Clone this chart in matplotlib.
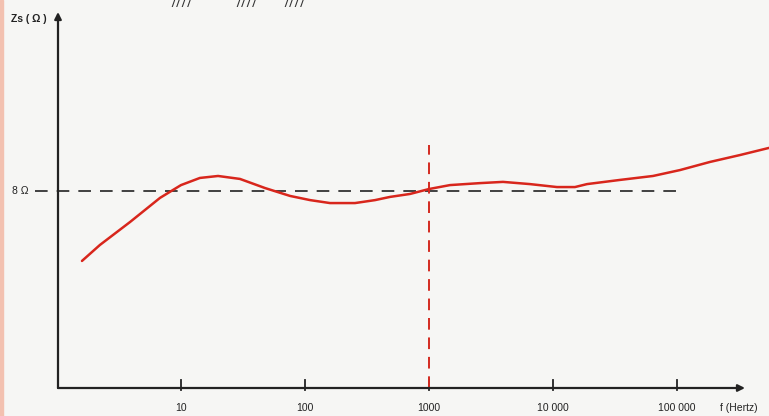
import numpy as np
import matplotlib.pyplot as plt
from matplotlib.patches import Rectangle

# impedance curve
freq_hz = [1.59, 2.22, 3.88, 6.77, 10, 14.2, 19.9, 29.9, 47.6, 75.7, 110, 159, 253,
           367, 485, 703, 1000, 1476, 2578, 3950, 6530, 10770, 15030, 18800,
           34700, 64000, 105700, 184500, 322000, 552000]
zs_ohm = [5.16, 5.81, 6.74, 7.72, 8.24, 8.53, 8.61, 8.49, 8.12, 7.80, 7.63, 7.51, 7.51,
          7.63, 7.76, 7.88, 8.08, 8.24, 8.32, 8.37, 8.28, 8.16, 8.16, 8.28,
          8.45, 8.61, 8.85, 9.18, 9.46, 9.75]

tick_freqs = [10, 100, 1000, 10000, 100000]
tick_labels = ["10", "100", "1000", "10 000", "100 000"]
nominal_ohm = 8
cross_freq = 1000

plt.rcParams['font.family'] = ['Liberation Sans', 'DejaVu Sans']

fig = plt.figure(figsize=(7.69, 4.16), dpi=100)
fig.patch.set_facecolor('#f6f6f4')
ax = fig.add_axes([0, 0, 1, 1])
ax.set_facecolor('#f6f6f4')
ax.set_xscale('log')
ax.set_xlim(10 ** (1 - 181 / 124), 10 ** (1 + 588 / 124))
ax.set_ylim(-28 / 24.625, 388 / 24.625)
ax.axis('off')

x0 = 10 ** (1 - 123 / 124)   # where the y axis sits
x_end = 10 ** (1 + 564 / 124)
y_top = 376 / 24.625

# axes with arrows
ax.annotate('', xy=(x_end, 0), xytext=(x0, 0),
            arrowprops=dict(arrowstyle='-|>', color='#222222', lw=1.6,
                            mutation_scale=10, shrinkA=0, shrinkB=0))
ax.annotate('', xy=(x0, y_top), xytext=(x0, 0),
            arrowprops=dict(arrowstyle='-|>', color='#222222', lw=1.6,
                            mutation_scale=10, shrinkA=0, shrinkB=0))

# decade ticks
for f, lab in zip(tick_freqs, tick_labels):
    ax.plot([f, f], [-0.1, 0.33], color='#222222', lw=1.3)
    ax.text(f, -0.82, lab, ha='center', va='center', fontsize=7.5, color='#222222')
ax.text(10 ** (1 + 539 / 124), -0.82, 'f (Hertz)', ha='left', va='center',
        fontsize=7.5, color='#222222')

# nominal impedance line
ax.plot([10 ** (1 - 146 / 124), 10 ** (1 + 502 / 124)], [nominal_ohm, nominal_ohm],
        color='#333333', lw=1.3, dashes=(7, 5))
ax.text(10 ** (1 - 169 / 124), nominal_ohm, '8 Ω', ha='left', va='center',
        fontsize=7.5, color='#222222')

# 1 kHz marker
ax.plot([cross_freq, cross_freq], [0, 243 / 24.625], color='#d42a20', lw=1.4,
        dashes=(6, 4))

# impedance curve
ax.plot(freq_hz, zs_ohm, color='#d8261c', lw=1.8, solid_capstyle='round')

ax.text(10 ** (1 - 170 / 124), 369 / 24.625, 'Zs ( Ω )', ha='left', va='center',
        fontsize=7.5, fontweight='bold', color='#222222')

# cut-off hatching at the top edge
for px in [181, 246, 294]:
    fig.text(px / 769, 1 - 4 / 416, '/ / / /', ha='center', va='center', fontsize=7,
             fontweight='bold', style='italic', color='#333333')

# reddish scan edge on the left
fig.patches.append(Rectangle((0, 0), 3 / 769, 1, transform=fig.transFigure,
                             color='#f3c1b0', zorder=0))

fig.savefig('out.png', dpi=100, facecolor=fig.get_facecolor())
